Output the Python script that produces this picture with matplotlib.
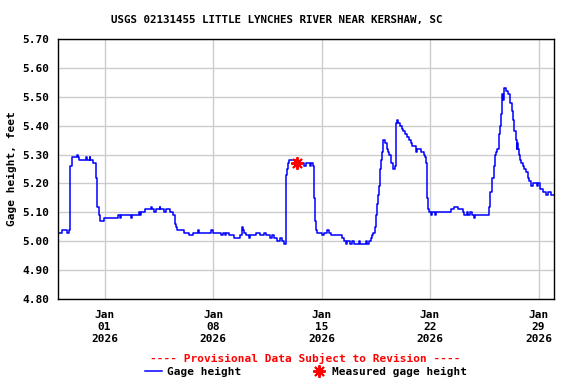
import numpy as np
import pandas as pd
import matplotlib
matplotlib.use("Agg")
import matplotlib.pyplot as plt
from matplotlib.lines import Line2D

plt.rcParams['font.family'] = ['DejaVu Sans Mono']
plt.rcParams['font.weight'] = 'bold'

title = "USGS 02131455 LITTLE LYNCHES RIVER NEAR KERSHAW, SC"
start = pd.Timestamp("2025-12-29 00:00")

# gage height, hours after start (value holds until next entry)
hours = [0, 5.75, 14, 17, 19, 21.25, 29.5, 30.5, 33, 43.5, 44.5, 49.25, 50, 54.75,
         59.5, 61, 63, 64.75, 65.5, 71, 93.5, 96.25, 98.25, 113.25, 114.75, 125.75,
         127.25, 128.75, 135, 144.75, 145.75, 149, 151, 157.25, 158.25, 164.5, 167.5,
         172.75, 178, 180.5, 182.5, 185, 194.5, 203.25, 209.5, 216.75, 217.75, 237,
         239.5, 252.5, 256, 259, 260.75, 264.25, 273, 282.25, 285, 287, 288.5, 291.25,
         295.25, 298, 307.25, 313.5, 318.5, 322.25, 327.75, 331.5, 334, 339.25, 343.25,
         347, 349.5, 353.75, 354.75, 356.25, 358, 367.75, 380.5, 383.25, 389.5, 392,
         395.25, 396, 398.25, 399.75, 401.25, 409, 411.5, 416.75, 419.25, 423, 440,
         442.5, 445.25, 448.25, 451.5, 454.5, 457.75, 466, 467, 476.25, 478.5, 481.5,
         484, 485.5, 488.25, 490.25, 491.75, 493.25, 495.25, 496.5, 498, 499.5, 501,
         503, 505.75, 509, 511, 513, 516.25, 518.25, 519.25, 521.75, 522.75, 524,
         525.5, 527, 529.5, 532, 534.75, 537.25, 540, 543.5, 546, 548.75, 553.75,
         556.5, 562.75, 566.75, 569, 570.5, 571.5, 573, 574.5, 577, 579.75, 583.25,
         585.25, 608.25, 613.25, 620, 627.75, 628.75, 633, 635, 637.75, 640.75,
         644.25, 645.75, 667.5, 669, 671.25, 672.75, 674.5, 676.5, 678.5, 680.5,
         682.25, 683.75, 685.75, 687.25, 688.25, 689.25, 690.5, 694, 697, 700.25,
         702.25, 704.25, 706.25, 708.5, 710, 711, 712, 714, 715.25, 716.75, 719.5,
         722, 724.5, 727.25, 729.75, 732.25, 735, 741.5, 743.5, 746.75, 750.5, 755.5,
         758.25, 763.25, 767.75]
gage = [5.03, 5.04, 5.03, 5.04, 5.26, 5.29, 5.30, 5.29, 5.28, 5.29, 5.28, 5.29, 5.28, 5.27,
        5.22, 5.12, 5.09, 5.08, 5.07, 5.08, 5.09, 5.08, 5.09, 5.08, 5.09, 5.10,
        5.09, 5.10, 5.11, 5.12, 5.11, 5.10, 5.11, 5.12, 5.11, 5.10, 5.11,
        5.10, 5.09, 5.06, 5.05, 5.04, 5.03, 5.02, 5.03, 5.04, 5.03, 5.04,
        5.03, 5.02, 5.03, 5.02, 5.03, 5.02, 5.01, 5.02, 5.05, 5.04, 5.03, 5.02,
        5.01, 5.02, 5.03, 5.02, 5.03, 5.02, 5.01, 5.02, 5.01, 5.00, 5.01,
        5.00, 4.99, 5.23, 5.25, 5.27, 5.28, 5.27, 5.26, 5.27, 5.26, 5.27,
        5.26, 5.15, 5.07, 5.04, 5.03, 5.02, 5.03, 5.04, 5.03, 5.02, 5.01,
        5.00, 4.99, 5.00, 4.99, 5.00, 4.99, 5.00, 4.99, 5.00, 4.99, 5.00,
        5.01, 5.02, 5.03, 5.05, 5.09, 5.13, 5.16, 5.19, 5.25, 5.28, 5.31,
        5.35, 5.34, 5.32, 5.31, 5.30, 5.27, 5.26, 5.25, 5.26, 5.27, 5.41,
        5.42, 5.41, 5.40, 5.39, 5.38, 5.37, 5.36, 5.35, 5.34, 5.33, 5.31,
        5.32, 5.31, 5.30, 5.29, 5.27, 5.15, 5.11, 5.10, 5.09, 5.10, 5.09,
        5.10, 5.11, 5.12, 5.11, 5.10, 5.09, 5.10, 5.09, 5.10, 5.09,
        5.08, 5.09, 5.12, 5.17, 5.18, 5.22, 5.26, 5.30, 5.31, 5.32,
        5.37, 5.40, 5.44, 5.48, 5.51, 5.49, 5.53, 5.52, 5.51, 5.48,
        5.45, 5.42, 5.38, 5.35, 5.32, 5.34, 5.32, 5.30, 5.28, 5.27, 5.26,
        5.25, 5.24, 5.22, 5.21, 5.19, 5.20, 5.19, 5.20, 5.18, 5.17, 5.16,
        5.17, 5.16, 5.16]

meas_hours = [370.25]
meas_gage = [5.27]

tick_dates = ["2026-01-01", "2026-01-08", "2026-01-15", "2026-01-22", "2026-01-29"]
yticks = [4.80, 4.90, 5.00, 5.10, 5.20, 5.30, 5.40, 5.50, 5.60, 5.70]

t = start + pd.to_timedelta(hours, unit="h")
tm = start + pd.to_timedelta(meas_hours, unit="h")

fig = plt.figure(figsize=(5.76, 3.84), dpi=100)
ax = fig.add_axes([58/576, 1-299/384, 496/576, 260/384])

ax.plot(t, gage, color="#0000ff", lw=1.1, drawstyle="steps-post")
ax.plot(tm, meas_gage, ls="none", marker=(8, 2, 0), ms=9, mew=1.4, color="#ff0000")

ax.set_xlim(start, pd.Timestamp("2026-01-30 00:00"))
ax.set_ylim(4.80, 5.70)
ticks = pd.to_datetime(tick_dates)
ax.set_xticks(ticks)
ax.set_xticklabels([d.strftime("%b\n%d\n%Y") for d in ticks], fontsize=8,
                   fontweight="bold", linespacing=1.25)
ax.set_yticks(yticks)
ax.set_yticklabels(["%.2f" % v for v in yticks], fontsize=8, fontweight="bold")
ax.tick_params(length=0)
ax.tick_params(axis="x", pad=8)
ax.tick_params(axis="y", pad=6)
ax.grid(True, color="#cccccc", lw=1)
ax.set_axisbelow(True)
for s in ax.spines.values():
    s.set_linewidth(1.0)
ax.set_ylabel("Gage height, feet", fontsize=8, fontweight="bold", labelpad=4)

fig.text(277/576, 1-20/384, title, ha="center", va="center", fontsize=7.8, fontweight="bold")
fig.text(305/576, 1-358/384, "---- Provisional Data Subject to Revision ----",
         ha="center", va="center", fontsize=8, fontweight="bold", color="#ff0000")

handles = [Line2D([], [], color="#0000ff", lw=1.1),
           Line2D([], [], ls="none", marker=(8, 2, 0), ms=9, mew=1.4, color="#ff0000")]
fig.legend(handles, ["Gage height", "Measured gage height"], loc="center",
           bbox_to_anchor=(306/576, 1-372/384), ncol=2, frameon=False,
           prop={"size": 8, "weight": "bold"},
           handlelength=1.6, handletextpad=0.4, columnspacing=6.2, borderpad=0)

fig.savefig("out.png", dpi=100)
